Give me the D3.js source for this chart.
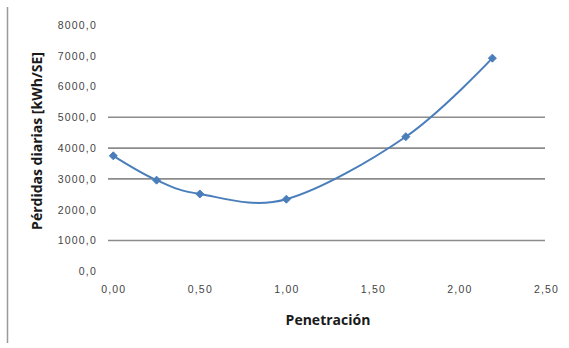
<!DOCTYPE html>
<html>
<head>
<meta charset="utf-8">
<script src="https://cdn.jsdelivr.net/npm/d3@7"></script>
<style>
  html, body { margin: 0; padding: 0; background: #fff; }
  svg { display: block; font-family: "Open Sans", Lato, sans-serif; }
</style>
</head>
<body>
<svg id="chart" width="569" height="348"></svg>
<script>
// Penetration levels and daily losses per substation
const penetracion = [0.00, 0.25, 0.50, 1.00, 1.69, 2.19];
const perdidas = [3750, 2960, 2510, 2340, 4370, 6920];

// Axis ticks and the horizontal gridlines that are drawn
const yTicks = [0, 1000, 2000, 3000, 4000, 5000, 6000, 7000, 8000];
const xTicks = [0.00, 0.50, 1.00, 1.50, 2.00, 2.50];
const gridValues = [1000, 3000, 4000, 5000];

const yTitle = "Pérdidas diarias [kWh/SE]";
const xTitle = "Penetración";

const svg = d3.select("#chart");

const x = d3.scaleLinear().domain([0, 2.5]).range([113.3, 546]);
const y = d3.scaleLinear().domain([0, 8000]).range([271.3, 24.9]);

const fmtY = v => d3.format(".1f")(v).replace(".", ",");
const fmtX = v => d3.format(".2f")(v).replace(".", ",");

// Left border of the frame
svg.append("line")
  .attr("x1", 7.5).attr("x2", 7.5)
  .attr("y1", 7).attr("y2", 343)
  .attr("stroke", "#9a9a9a").attr("stroke-width", 1.5);

// Gridlines
svg.append("g").selectAll("line")
  .data(gridValues).join("line")
  .attr("x1", 108).attr("x2", 545)
  .attr("y1", d => y(d)).attr("y2", d => y(d))
  .attr("stroke", "#8c8c8c").attr("stroke-width", 1.6);

// Y axis labels
const yAxis = d3.axisLeft(y).tickValues(yTicks).tickFormat(fmtY).tickSize(0).tickPadding(0);
const gy = svg.append("g").attr("transform", "translate(97,0)").call(yAxis);
gy.select(".domain").remove();
gy.selectAll("text")
  .attr("fill", "#444").attr("font-size", 10.5).attr("letter-spacing", 1.2);

// X axis labels
const xAxis = d3.axisBottom(x).tickValues(xTicks).tickFormat(fmtX).tickSize(0).tickPadding(0);
const gx = svg.append("g").attr("transform", "translate(0,286)").call(xAxis);
gx.select(".domain").remove();
gx.selectAll("text")
  .attr("fill", "#444").attr("font-size", 10.5).attr("letter-spacing", 1.2);

// Axis titles
svg.append("text")
  .attr("transform", "translate(41.5,141) rotate(-90)")
  .attr("text-anchor", "middle")
  .attr("font-size", 14).attr("font-weight", "bold").attr("fill", "#1a1a1a")
  .text(yTitle);

svg.append("text")
  .attr("x", 328).attr("y", 325)
  .attr("text-anchor", "middle")
  .attr("font-size", 14).attr("font-weight", "bold").attr("fill", "#1a1a1a")
  .text(xTitle);

// Smoothed series line
const pts = penetracion.map((p, i) => [p, perdidas[i]]);
const line = d3.line()
  .x(d => x(d[0])).y(d => y(d[1]))
  .curve(d3.curveCatmullRom.alpha(0));

svg.append("path")
  .datum(pts)
  .attr("d", line)
  .attr("fill", "none")
  .attr("stroke", "#4a7ebb")
  .attr("stroke-width", 2);

// Diamond markers
svg.append("g").selectAll("path")
  .data(pts).join("path")
  .attr("transform", d => `translate(${x(d[0])},${y(d[1])})`)
  .attr("d", "M0,-4L4,0L0,4L-4,0Z")
  .attr("fill", "#4a7ebb")
  .attr("stroke", "#4a7ebb").attr("stroke-width", 1);
</script>
</body>
</html>
